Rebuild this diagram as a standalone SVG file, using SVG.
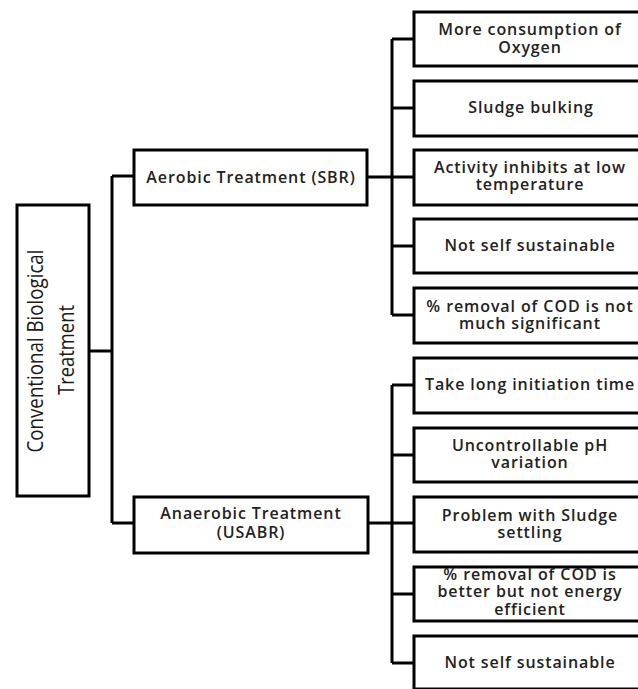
<svg xmlns="http://www.w3.org/2000/svg" width="638" height="689" viewBox="0 0 638 689">
  <style>
    .box { fill: #ffffff; stroke: #000000; stroke-width: 3; }
    .wire { fill: none; stroke: #000000; stroke-width: 3; }
    .lbl { font-family: "Open Sans", "Noto Sans", "Liberation Sans", sans-serif; font-size: 16px; font-weight: 600; letter-spacing: 0.9px; fill: #222222; text-anchor: middle; }
    .root { font-family: "Open Sans", "Noto Sans", "Liberation Sans", sans-serif; font-size: 21px; fill: #1a1a1a; text-anchor: middle; }
  </style>
  <rect width="638" height="689" fill="#ffffff"/>

  <!-- connectors -->
  <g id="connectors" class="wire">
    <path d="M89 351 H112"/>
    <path d="M112 176 V523"/>
    <path d="M112 176 H134"/>
    <path d="M112 523 H134"/>
    <!-- aerobic branch -->
    <path d="M367 177 H414"/>
    <path d="M392 39 V315"/>
    <path d="M392 39 H414"/>
    <path d="M392 108 H414"/>
    <path d="M392 246 H414"/>
    <path d="M392 315 H414"/>
    <!-- anaerobic branch -->
    <path d="M367 523 H414"/>
    <path d="M392 385 V663"/>
    <path d="M392 385 H414"/>
    <path d="M392 455 H414"/>
    <path d="M392 594 H414"/>
    <path d="M392 663 H414"/>
  </g>

  <!-- root -->
  <g id="root">
    <rect class="box" x="17" y="205" width="72" height="291"/>
    <text class="root" transform="translate(43,351) rotate(-90)" textLength="203" lengthAdjust="spacingAndGlyphs">Conventional Biological</text>
    <text class="root" transform="translate(74,350) rotate(-90)" textLength="90" lengthAdjust="spacingAndGlyphs">Treatment</text>
  </g>

  <!-- second level -->
  <g id="aerobic">
    <rect class="box" x="134" y="150" width="233" height="55"/>
    <text class="lbl" x="251" y="183">Aerobic Treatment (SBR)</text>
  </g>
  <g id="anaerobic">
    <rect class="box" x="134" y="497" width="234" height="56"/>
    <text class="lbl" x="251" y="519">Anaerobic Treatment</text>
    <text class="lbl" x="251" y="538">(USABR)</text>
  </g>

  <!-- aerobic drawbacks -->
  <g id="a1">
    <rect class="box" x="414" y="12" width="240" height="54"/>
    <text class="lbl" x="530" y="35">More consumption of</text>
    <text class="lbl" x="530" y="53">Oxygen</text>
  </g>
  <g id="a2">
    <rect class="box" x="414" y="81" width="240" height="55"/>
    <text class="lbl" x="531" y="113">Sludge bulking</text>
  </g>
  <g id="a3">
    <rect class="box" x="414" y="150" width="240" height="55"/>
    <text class="lbl" x="530" y="173">Activity inhibits at low</text>
    <text class="lbl" x="530" y="190">temperature</text>
  </g>
  <g id="a4">
    <rect class="box" x="414" y="219" width="240" height="54"/>
    <text class="lbl" x="530" y="251">Not self sustainable</text>
  </g>
  <g id="a5">
    <rect class="box" x="414" y="288" width="240" height="55"/>
    <text class="lbl" x="530" y="312">% removal of COD is not</text>
    <text class="lbl" x="530" y="329">much significant</text>
  </g>

  <!-- anaerobic drawbacks -->
  <g id="n1">
    <rect class="box" x="414" y="358" width="240" height="55"/>
    <text class="lbl" x="530" y="390">Take long initiation time</text>
  </g>
  <g id="n2">
    <rect class="box" x="414" y="428" width="240" height="54"/>
    <text class="lbl" x="530" y="451">Uncontrollable pH</text>
    <text class="lbl" x="530" y="468">variation</text>
  </g>
  <g id="n3">
    <rect class="box" x="414" y="497" width="240" height="55"/>
    <text class="lbl" x="530" y="521">Problem with Sludge</text>
    <text class="lbl" x="530" y="538">settling</text>
  </g>
  <g id="n4">
    <rect class="box" x="414" y="567" width="240" height="54"/>
    <text class="lbl" x="530" y="580">% removal of COD is</text>
    <text class="lbl" x="530" y="597">better but not energy</text>
    <text class="lbl" x="530" y="615">efficient</text>
  </g>
  <g id="n5">
    <rect class="box" x="414" y="636" width="240" height="53"/>
    <text class="lbl" x="530" y="668">Not self sustainable</text>
  </g>
</svg>
